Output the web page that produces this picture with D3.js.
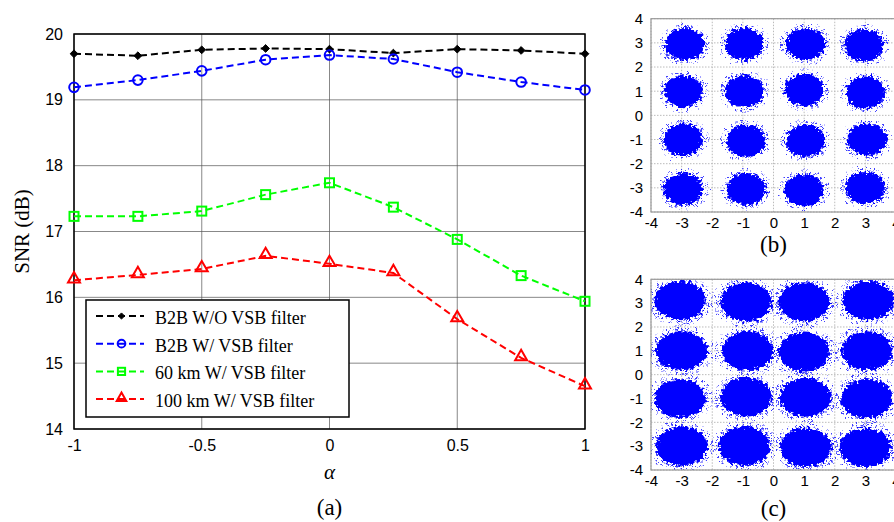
<!DOCTYPE html>
<html lang="en">
<head>
<meta charset="UTF-8">
<title>SNR vs alpha</title>
<script src="https://cdn.jsdelivr.net/npm/d3@7/dist/d3.min.js"></script>
<style>
    body { margin: 0; background: #fff; }
    .tick text { font-family: "Liberation Sans", Arial, sans-serif; }
    .serif { font-family: "Liberation Serif", "Times New Roman", serif; }
</style>
</head>
<body>
<svg id="main" width="894" height="522"></svg>
<script>
// data
const alpha = [-1, -0.75, -0.5, -0.25, 0, 0.25, 0.5, 0.75, 1];
const b2bNoFilter = [19.70, 19.67, 19.76, 19.78, 19.77, 19.71, 19.77, 19.75, 19.70];
const b2bFilter   = [19.19, 19.30, 19.44, 19.61, 19.68, 19.62, 19.42, 19.27, 19.15];
const km60Filter  = [17.23, 17.23, 17.31, 17.56, 17.74, 17.37, 16.88, 16.33, 15.94];
const km100Filter = [16.26, 16.34, 16.43, 16.63, 16.51, 16.37, 15.67, 15.08, 14.65];
const seriesNames = ['B2B W/O VSB filter', 'B2B W/ VSB filter', '60 km W/ VSB filter', '100 km W/ VSB filter'];
const xTicks = [-1, -0.5, 0, 0.5, 1];
const yTicks = [14, 15, 16, 17, 18, 19, 20];

// constellation cluster centres and spreads (units), panels (b) and (c)
const bCentres = [[-2.9, 2.95], [-0.95, 2.95], [1.05, 2.95], [2.95, 2.9],
                  [-2.95, 1.0], [-0.95, 1.0], [1.0, 1.05], [3.0, 0.95],
                  [-2.95, -1.0], [-0.9, -1.05], [1.05, -1.05], [3.05, -1.0],
                  [-2.95, -3.05], [-0.9, -3.05], [1.0, -3.1], [3.0, -3.0]];
const bSpread = [0.64, 0.66];
const cCentres = [[-3.05, 3.1], [-0.9, 3.05], [1.0, 3.05], [3.1, 3.1],
                  [-3.0, 1.0], [-0.85, 1.0], [1.0, 0.95], [3.05, 1.0],
                  [-3.05, -1.0], [-0.9, -0.95], [1.05, -0.95], [3.05, -1.0],
                  [-3.0, -3.0], [-0.95, -3.0], [1.05, -3.05], [3.0, -3.05]];
const cSpread = [0.84, 0.82];
const constTicks = [-4, -3, -2, -1, 0, 1, 2, 3, 4];

const svg = d3.select('svg#main');
const colors = ['#000000', '#0000ff', '#00ff00', '#ff0000'];
const values = [b2bNoFilter, b2bFilter, km60Filter, km100Filter];

// ---------- panel (a) ----------
const box = {left: 74, right: 585, top: 34, bottom: 429};
const x = d3.scaleLinear().domain([-1, 1]).range([box.left, box.right]);
const y = d3.scaleLinear().domain([14, 20]).range([box.bottom, box.top]);

const grid = svg.append('g').attr('stroke', '#555').attr('stroke-width', 0.7);
grid.selectAll('line.v').data(xTicks).enter().append('line')
    .attr('x1', d => x(d)).attr('x2', d => x(d))
    .attr('y1', box.top).attr('y2', box.bottom);
grid.selectAll('line.h').data(yTicks).enter().append('line')
    .attr('x1', box.left).attr('x2', box.right)
    .attr('y1', d => y(d)).attr('y2', d => y(d));

const yAxis = svg.append('g').attr('transform', `translate(${box.left},0)`)
    .call(d3.axisLeft(y).tickValues(yTicks).tickSize(0).tickPadding(11).tickFormat(d => String(d)));
const xAxis = svg.append('g').attr('transform', `translate(0,${box.bottom})`)
    .call(d3.axisBottom(x).tickValues(xTicks).tickSize(0).tickPadding(11).tickFormat(d => String(d)));
[xAxis, yAxis].forEach(a => {
    a.select('.domain').remove();
    a.selectAll('text').attr('font-size', 16).attr('fill', '#000');
});

svg.append('rect')
    .attr('x', box.left).attr('y', box.top)
    .attr('width', box.right - box.left).attr('height', box.bottom - box.top)
    .attr('fill', 'none').attr('stroke', '#000').attr('stroke-width', 1.5);

// marker drawing
function marker(g, i, scale) {
    if (i === 0) {
        g.append('path').attr('d', d3.symbol(d3.symbolDiamond2, 38 * scale * scale)())
            .attr('fill', colors[i]).attr('stroke', colors[i]).attr('stroke-width', 1);
    } else if (i === 1) {
        g.append('circle').attr('r', 4.8 * scale)
            .attr('fill', 'none').attr('stroke', colors[i]).attr('stroke-width', 2);
    } else if (i === 2) {
        const s = 9 * scale;
        g.append('rect').attr('x', -s / 2).attr('y', -s / 2).attr('width', s).attr('height', s)
            .attr('fill', 'none').attr('stroke', colors[i]).attr('stroke-width', 2);
    } else {
        g.append('path').attr('d', d3.symbol(d3.symbolTriangle, 62 * scale * scale)())
            .attr('transform', `translate(0,${-1.2 * scale})`)
            .attr('fill', 'none').attr('stroke', colors[i]).attr('stroke-width', 2);
    }
}

const line = d3.line().x((d, j) => x(alpha[j])).y(d => y(d));
values.forEach((vals, i) => {
    svg.append('path').datum(vals)
        .attr('d', line)
        .attr('fill', 'none').attr('stroke', colors[i])
        .attr('stroke-width', 2).attr('stroke-dasharray', '7,4');
    svg.append('g').selectAll('g').data(vals).enter().append('g')
        .attr('transform', (d, j) => `translate(${x(alpha[j])},${y(d)})`)
        .each(function () { marker(d3.select(this), i, 1); });
});

// legend
const legend = svg.append('g');
legend.append('rect').attr('x', 86).attr('y', 300).attr('width', 263).attr('height', 117)
    .attr('fill', '#fff').attr('stroke', '#000').attr('stroke-width', 1.5);
seriesNames.forEach((name, i) => {
    const ly = 316 + i * 27.7;
    legend.append('line').attr('x1', 96).attr('x2', 144).attr('y1', ly).attr('y2', ly)
        .attr('stroke', colors[i]).attr('stroke-width', 2).attr('stroke-dasharray', '7,4');
    const mg = legend.append('g').attr('transform', `translate(121.5,${ly})`);
    marker(mg, i, 0.8);
    legend.append('text').attr('class', 'serif').attr('x', 155).attr('y', ly + 8)
        .attr('font-size', 18).text(name);
});

// axis titles
svg.append('text').attr('class', 'serif')
    .attr('transform', `translate(29,${(box.top + box.bottom) / 2}) rotate(-90)`)
    .attr('text-anchor', 'middle').attr('font-size', 21).text('SNR (dB)');
svg.append('text').attr('class', 'serif')
    .attr('x', x(0)).attr('y', 479).attr('text-anchor', 'middle')
    .attr('font-style', 'italic').attr('font-size', 21).text('α');
svg.append('text').attr('class', 'serif')
    .attr('x', x(0)).attr('y', 515).attr('text-anchor', 'middle')
    .attr('font-size', 23).text('(a)');

// ---------- constellation panels ----------
const defs = svg.append('defs');
const rough = defs.append('filter').attr('id', 'rough')
    .attr('x', '-40%').attr('y', '-40%').attr('width', '180%').attr('height', '180%');
rough.append('feTurbulence').attr('type', 'fractalNoise').attr('baseFrequency', 0.35)
    .attr('numOctaves', 2).attr('seed', 4).attr('result', 'noise');
rough.append('feDisplacementMap').attr('in', 'SourceGraphic').attr('in2', 'noise')
    .attr('scale', 9).attr('xChannelSelector', 'R').attr('yChannelSelector', 'G');
const speck = defs.append('pattern').attr('id', 'speck')
    .attr('width', 5).attr('height', 4).attr('patternUnits', 'userSpaceOnUse');
speck.append('rect').attr('x', 1).attr('y', 1).attr('width', 2).attr('height', 1.5).attr('fill', '#0000ff');

function constellation(id, top, bottom, labelY, label, centres, spread) {
    const cx = d3.scaleLinear().domain([-4, 4]).range([651, 896]);
    const cy = d3.scaleLinear().domain([-4, 4]).range([bottom, top]);
    const g = svg.append('g');
    defs.append('clipPath').attr('id', id).append('rect')
        .attr('x', cx(-4)).attr('y', cy(4)).attr('width', cx(4) - cx(-4)).attr('height', cy(-4) - cy(4));

    const gg = g.append('g').attr('stroke', '#bbb').attr('stroke-width', 1).attr('stroke-dasharray', '1.5,1.5');
    gg.selectAll('line.v').data(constTicks).enter().append('line')
        .attr('x1', d => cx(d)).attr('x2', d => cx(d)).attr('y1', cy(4)).attr('y2', cy(-4));
    gg.selectAll('line.h').data(constTicks).enter().append('line')
        .attr('x1', cx(-4)).attr('x2', cx(4)).attr('y1', d => cy(d)).attr('y2', d => cy(d));

    const pts = g.append('g').attr('clip-path', `url(#${id})`);
    const halo = pts.append('g').attr('filter', 'url(#rough)').attr('opacity', 0.75);
    halo.selectAll('ellipse').data(centres).enter().append('ellipse')
        .attr('cx', d => cx(d[0])).attr('cy', d => cy(d[1]))
        .attr('rx', (cx(spread[0] * 1.28) - cx(0))).attr('ry', (cy(0) - cy(spread[1] * 1.28)))
        .attr('fill', 'url(#speck)');
    const core = pts.append('g').attr('filter', 'url(#rough)');
    core.selectAll('ellipse').data(centres).enter().append('ellipse')
        .attr('cx', d => cx(d[0])).attr('cy', d => cy(d[1]))
        .attr('rx', (cx(spread[0]) - cx(0))).attr('ry', (cy(0) - cy(spread[1])))
        .attr('fill', '#0000ff');

    g.append('rect').attr('x', cx(-4)).attr('y', cy(4))
        .attr('width', cx(4) - cx(-4)).attr('height', cy(-4) - cy(4))
        .attr('fill', 'none').attr('stroke', '#999').attr('stroke-width', 1.2);

    const ax = g.append('g').attr('transform', `translate(0,${cy(-4)})`)
        .call(d3.axisBottom(cx).tickValues(constTicks).tickSize(0).tickPadding(5).tickFormat(d => String(d)));
    const ay = g.append('g').attr('transform', `translate(${cx(-4)},0)`)
        .call(d3.axisLeft(cy).tickValues(constTicks).tickSize(0).tickPadding(8).tickFormat(d => String(d)));
    [ax, ay].forEach(a => {
        a.select('.domain').remove();
        a.selectAll('text').attr('font-size', 15).attr('fill', '#000');
    });
    svg.append('text').attr('class', 'serif')
        .attr('x', cx(0)).attr('y', labelY).attr('text-anchor', 'middle')
        .attr('font-size', 23).text(label);
}

constellation('clipB', 18.7, 212, 252, '(b)', bCentres, bSpread);
constellation('clipC', 279.3, 470, 516, '(c)', cCentres, cSpread);
</script>
</body>
</html>
